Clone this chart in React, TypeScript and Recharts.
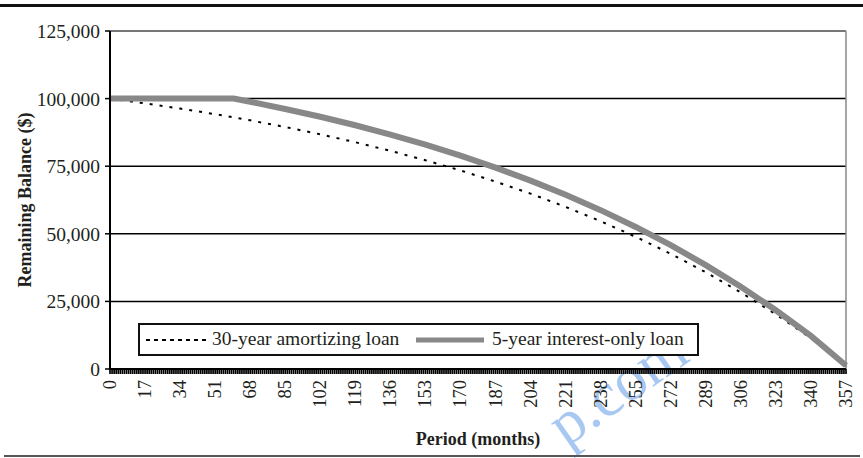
import { LineChart, Line, XAxis, YAxis, CartesianGrid, ReferenceLine, Legend } from 'recharts'

// months (label ticks plus the end of the interest-only period)
const months = [0, 17, 34, 51, 60, 68, 85, 102, 119, 136, 153, 170, 187, 204, 221, 238, 255, 272, 289, 306, 323, 340, 357]
const amortizing = [
  100000, 98240, 96320, 94230, 93060, 91960, 89490, 86800, 83870, 80680, 77200, 73430,
  69310, 64840, 59960, 54650, 48880, 42600, 35760, 28310, 20210, 11380, 1200,
]
const interestOnly = [
  100000, 100000, 100000, 100000, 100000, 98830, 96170, 93280, 90130, 86700, 82970, 78900,
  74490, 69670, 64440, 58740, 52530, 45780, 38430, 30430, 21720, 12240, 1300,
]
const seriesNames = ['30-year amortizing loan', '5-year interest-only loan']
const yTicks = [0, 25000, 50000, 75000, 100000, 125000]
const monthTicks = Array.from({ length: 358 }, (_, i) => i)
const labelEvery = 17

const data = months.map((m, i) => ({ month: m, amortizing: amortizing[i], interestOnly: interestOnly[i] }))

const FONT = "'Liberation Serif', 'DejaVu Serif', serif"
const INK = '#231f20'
const TICK_GAP = 11 // distance from axis line to label start
const TICK_LEN = 5

// one small tick mark for every month, plus a rotated label every 17 months
function MonthTick({ x, y, payload }: any) {
  const axisY = y - TICK_GAP
  return (
    <g>
      <line x1={x} y1={axisY} x2={x} y2={axisY + TICK_LEN} stroke="#000" strokeWidth={1.7} />
      {payload.value % labelEvery === 0 && (
        <text
          x={x}
          y={y}
          transform={`rotate(-90, ${x}, ${y})`}
          textAnchor="end"
          dominantBaseline="central"
          fontFamily={FONT}
          fontSize={18.5}
          fill={INK}
        >
          {payload.value}
        </text>
      )}
    </g>
  )
}

function LegendBox() {
  return (
    <div
      style={{
        position: 'relative',
        width: 561,
        height: 33,
        border: '2px solid #111',
        boxSizing: 'border-box',
        background: '#fff',
        fontFamily: FONT,
        fontSize: 19.5,
        color: INK,
      }}
    >
      <svg width={60} height={10} style={{ position: 'absolute', left: 6, top: 10 }}>
        <line x1={0} y1={5} x2={60} y2={5} stroke="#000" strokeWidth={2} strokeDasharray="4 4" />
      </svg>
      <span style={{ position: 'absolute', left: 72, top: 3, whiteSpace: 'nowrap' }}>{seriesNames[0]}</span>
      <svg width={68} height={10} style={{ position: 'absolute', left: 276, top: 10 }}>
        <line x1={0} y1={5} x2={68} y2={5} stroke="#888" strokeWidth={5} />
      </svg>
      <span style={{ position: 'absolute', left: 352, top: 3, whiteSpace: 'nowrap' }}>{seriesNames[1]}</span>
    </div>
  )
}

export default function App() {
  return (
    <div style={{ position: 'absolute', left: 0, top: 0, width: 863, height: 458, background: '#fff', overflow: 'hidden' }}>
      <div
        style={{
          position: 'absolute',
          left: 572,
          top: 394,
          fontFamily: FONT,
          fontSize: 62,
          color: '#a8c8f2',
          transform: 'rotate(-35deg)',
          transformOrigin: 'left bottom',
          whiteSpace: 'nowrap',
          lineHeight: 1,
          pointerEvents: 'none',
        }}
      >
        p.com
      </div>
      <div style={{ position: 'absolute', left: 0, top: 4, width: 863, height: 3, background: '#111' }} />
      <div style={{ position: 'absolute', left: 4, top: 455, width: 856, height: 2, background: '#555' }} />
      <LineChart width={863} height={458} data={data} margin={{ top: 31, right: 17, bottom: 0, left: 0 }}>
        <CartesianGrid vertical={false} stroke="#000" strokeWidth={1.5} />
        <XAxis
          type="number"
          dataKey="month"
          domain={[0, 357]}
          ticks={monthTicks}
          interval={0}
          minTickGap={0}
          tick={<MonthTick />}
          tickSize={5}
          tickMargin={6}
          tickLine={false}
          axisLine={{ stroke: '#000', strokeWidth: 2 }}
          height={89}
          label={{
            value: 'Period (months)',
            position: 'insideBottom',
            offset: 13,
            fill: INK,
            fontFamily: FONT,
            fontSize: 18,
            fontWeight: 'bold',
          }}
        />
        <YAxis
          type="number"
          domain={[0, 125000]}
          ticks={yTicks}
          interval={0}
          width={110}
          tickSize={5}
          tickMargin={5}
          tickFormatter={(v: number) => v.toLocaleString('en-US')}
          tick={{ fill: INK, fontFamily: FONT, fontSize: 19.5 }}
          tickLine={{ stroke: '#000', strokeWidth: 1.5 }}
          axisLine={{ stroke: '#000', strokeWidth: 2 }}
          label={{
            value: 'Remaining Balance ($)',
            angle: -90,
            position: 'center',
            dx: -30,
            fill: INK,
            fontFamily: FONT,
            fontSize: 18,
            fontWeight: 'bold',
          }}
        />
        <ReferenceLine y={125000} stroke="#8a8a8a" strokeWidth={1.5} />
        <ReferenceLine x={357} stroke="#8a8a8a" strokeWidth={1.5} />
        <Legend
          content={<LegendBox />}
          layout="horizontal"
          verticalAlign="middle"
          align="center"
          wrapperStyle={{ left: 138, top: 323, width: 561, height: 33 }}
        />
        <Line
          type="linear"
          dataKey="amortizing"
          name={seriesNames[0]}
          stroke="#000"
          strokeWidth={2}
          strokeDasharray="3 7"
          dot={false}
          isAnimationActive={false}
        />
        <Line
          type="linear"
          dataKey="interestOnly"
          name={seriesNames[1]}
          stroke="#888"
          strokeWidth={6}
          dot={false}
          isAnimationActive={false}
        />
      </LineChart>
    </div>
  )
}
